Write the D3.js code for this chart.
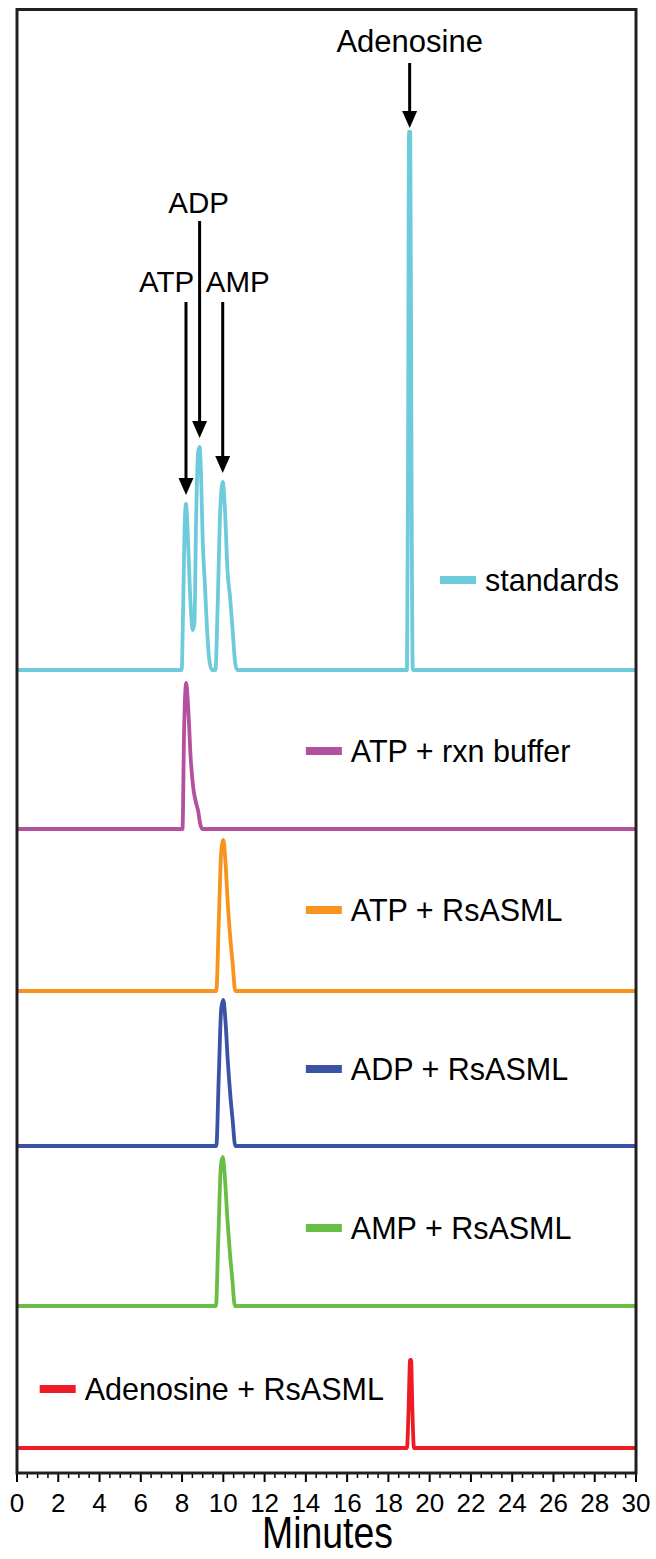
<!DOCTYPE html>
<html>
<head>
<meta charset="utf-8">
<script src="https://cdn.jsdelivr.net/npm/d3@7"></script>
<style>
  body { margin: 0; background: #fff; }
  text { font-family: "Liberation Sans", Arial, sans-serif; fill: #000; }
</style>
</head>
<body>
<div id="chart"></div>
<script>
// trace names, colours and stacking offsets (signal units)
var traceNames = ["standards", "ATP + rxn buffer", "ATP + RsASML", "ADP + RsASML", "AMP + RsASML", "Adenosine + RsASML"];
var traceColors = ["#6dcbdb", "#b4519f", "#f7941d", "#3a53a4", "#6abd45", "#ed1c24"];
var traceOffsets = [778, 619, 457, 302, 142, 0];

// each trace: [minutes, signal]
var standards = [[0,0],[7.98,0],[8.05,60],[8.12,140],[8.19,166],[8.27,140],[8.38,80],[8.52,40],[8.6,48],[8.68,150],[8.78,218],[8.85,223],[8.92,195],[9.0,130],[9.1,88],[9.2,45],[9.32,10],[9.45,0],[9.62,0],[9.72,60],[9.85,160],[9.97,188],[10.08,160],[10.2,100],[10.33,72],[10.45,40],[10.58,6],[10.68,0],
  [18.9,0],[18.95,200],[19.0,538],[19.06,538],[19.12,200],[19.18,0],[30,0]];
var atpBuffer = [[0,0],[8.02,0],[8.1,100],[8.2,146],[8.3,120],[8.42,70],[8.55,40],[8.68,26],[8.78,18],[8.88,5],[8.98,0],[30,0]];
var atpRsasml = [[0,0],[9.66,0],[9.78,70],[9.9,140],[10.0,151],[10.1,130],[10.22,86],[10.35,50],[10.45,28],[10.58,0],[30,0]];
var adpRsasml = [[0,0],[9.66,0],[9.78,70],[9.9,138],[10.0,146],[10.1,126],[10.22,84],[10.35,48],[10.45,26],[10.58,0],[30,0]];
var ampRsasml = [[0,0],[9.64,0],[9.76,70],[9.88,140],[9.97,149],[10.07,130],[10.2,86],[10.33,50],[10.43,28],[10.56,0],[30,0]];
var adoRsasml = [[0,0],[18.9,0],[18.98,40],[19.05,88],[19.1,88],[19.16,40],[19.24,0],[30,0]];
var traces = [standards, atpBuffer, atpRsasml, adpRsasml, ampRsasml, adoRsasml];

// peak annotations on the standards trace
var peakNames = ["ATP", "ADP", "AMP", "Adenosine"];
var peakTimes = [8.19, 8.85, 9.97, 19.03];
var peakHeights = [166, 223, 188, 538];
var arrowTops = [1146, 1227, 1146, 1385];
var labelLevels = [1156, 1235, 1156, 1396];
var labelTimes = [7.25, 8.8, 10.7, 19.03];

// legend placement (minutes, signal units)
var legendTimes = [20.5, 14.0, 14.0, 14.0, 14.0, 1.1];
var legendLevels = [868, 697, 538, 379, 220, 59];

var xTicks = d3.range(0, 31, 2);
var minorTicks = d3.range(0, 30.01, 0.5);

var W = 656, H = 1559;
var frame = {left: 17, right: 636, top: 9.5, bottom: 1473};

var svg = d3.select("#chart").append("svg")
  .attr("width", W).attr("height", H);

var x = d3.scaleLinear().domain([0, 30]).range([frame.left, frame.right]);
var y = d3.scaleLinear().domain([0, 1340]).range([1448, 108]);

var line = d3.line()
  .x(function(d) { return x(d[0]); })
  .y(function(d) { return y(d[1]); })
  .curve(d3.curveMonotoneX);

// traces
traces.forEach(function(tr, i) {
  var pts = tr.map(function(d) { return [d[0], d[1] + traceOffsets[i]]; });
  svg.append("path")
    .attr("d", line(pts))
    .attr("fill", "none")
    .attr("stroke", traceColors[i])
    .attr("stroke-width", 3.8)
    .attr("stroke-linejoin", "round");
});

// legend
traceNames.forEach(function(name, i) {
  var lx = x(legendTimes[i]), ly = y(legendLevels[i]);
  svg.append("line")
    .attr("x1", lx).attr("x2", lx + 36)
    .attr("y1", ly).attr("y2", ly)
    .attr("stroke", traceColors[i])
    .attr("stroke-width", 8);
  svg.append("text")
    .attr("x", lx + 45).attr("y", ly + 11)
    .attr("font-size", 30.5)
    .text(name);
});

// arrows
peakNames.forEach(function(name, i) {
  var px = x(peakTimes[i]);
  var tipY = y(traceOffsets[0] + peakHeights[i]) - (i == 3 ? 4 : 9);
  var topY = y(arrowTops[i]);
  svg.append("line")
    .attr("x1", px).attr("x2", px)
    .attr("y1", topY).attr("y2", tipY - 14)
    .attr("stroke", "#000").attr("stroke-width", 3);
  svg.append("path")
    .attr("d", "M" + (px - 7.5) + "," + (tipY - 17) + "L" + (px + 7.5) + "," + (tipY - 17) + "L" + px + "," + tipY + "Z")
    .attr("fill", "#000");
  svg.append("text")
    .attr("x", x(labelTimes[i])).attr("y", y(labelLevels[i]))
    .attr("text-anchor", "middle")
    .attr("font-size", i == 3 ? 31 : 29.5)
    .text(name);
});

// x axis ticks below the frame
var gx = svg.append("g");
gx.selectAll("line.minor").data(minorTicks).enter().append("line")
  .attr("x1", function(d) { return x(d); }).attr("x2", function(d) { return x(d); })
  .attr("y1", frame.bottom).attr("y2", function(d) { return d % 2 === 0 ? frame.bottom + 9 : frame.bottom + 5; })
  .attr("stroke", "#000")
  .attr("stroke-width", function(d) { return d % 2 === 0 ? 2 : 1.5; });
gx.selectAll("text").data(xTicks).enter().append("text")
  .attr("x", function(d) { return x(d); })
  .attr("y", 1512)
  .attr("text-anchor", "middle")
  .attr("font-size", 26)
  .text(function(d) { return d; });

svg.append("text")
  .attr("transform", "translate(" + ((frame.left + frame.right) / 2 + 1) + ",1548) scale(0.85,1)")
  .attr("text-anchor", "middle")
  .attr("font-size", 44)
  .text("Minutes");

// frame
svg.append("rect")
  .attr("x", frame.left).attr("y", frame.top)
  .attr("width", frame.right - frame.left)
  .attr("height", frame.bottom - frame.top)
  .attr("fill", "none")
  .attr("stroke", "#231f20")
  .attr("stroke-width", 3);
</script>
</body>
</html>
